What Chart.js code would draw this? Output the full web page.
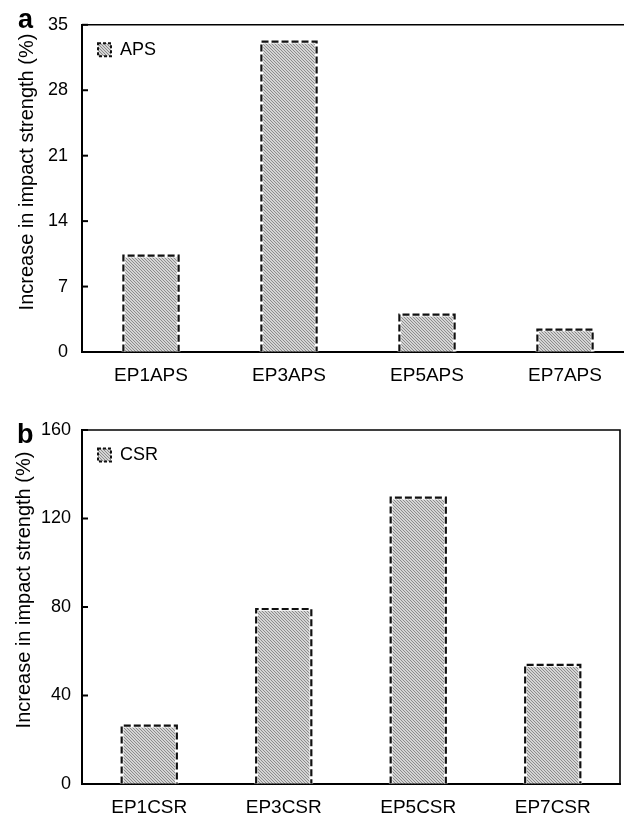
<!DOCTYPE html>
<html><head><meta charset="utf-8">
<script src="https://cdn.jsdelivr.net/npm/chart.js@4.4.1/dist/chart.umd.min.js"></script>
<style>
html,body{margin:0;padding:0;background:#fff;overflow:hidden;width:624px;height:817px;}
#wrap{position:relative;width:624px;height:817px;overflow:hidden;background:#fff;}
#ca{position:absolute;left:0;top:0;}
#cb{position:absolute;left:0;top:400px;}
</style></head><body>
<div id="wrap"><canvas id="ca" width="660" height="400"></canvas><canvas id="cb" width="624" height="417"></canvas></div>
<script>
// ---- data ----
const categoriesA = ['EP1APS', 'EP3APS', 'EP5APS', 'EP7APS'];
const valuesA = [10.3, 33.2, 4.0, 2.4];
const ticksA = [0, 7, 14, 21, 28, 35];
const seriesA = 'APS';

const categoriesB = ['EP1CSR', 'EP3CSR', 'EP5CSR', 'EP7CSR'];
const valuesB = [26.4, 79.1, 129.4, 53.8];
const ticksB = [0, 40, 80, 120, 160];
const seriesB = 'CSR';

const yTitle = 'Increase in impact strength (%)';
const FONT = "'Liberation Sans', Arial, sans-serif";

function hatch(ctx) {
  const c = document.createElement('canvas');
  c.width = 3; c.height = 3;
  const g = c.getContext('2d');
  g.fillStyle = '#d4d4d4'; g.fillRect(0, 0, 3, 3);
  g.fillStyle = '#8c8c8c';
  for (let i = 0; i < 3; i++) g.fillRect(i, i, 1, 1);
  return ctx.createPattern(c, 'repeat');
}

const dashPlugin = {
  id: 'dashBars',
  afterDatasetsDraw(chart) {
    const ctx = chart.ctx;
    chart.getSortedVisibleDatasetMetas().forEach(meta => {
      meta.data.forEach(bar => {
        const p = bar.getProps(['x', 'y', 'base', 'width'], true);
        const l = p.x - p.width / 2, r = p.x + p.width / 2;
        ctx.save();
        ctx.beginPath();
        ctx.moveTo(l, p.base); ctx.lineTo(l, p.y); ctx.lineTo(r, p.y); ctx.lineTo(r, p.base);
        ctx.lineWidth = 3.6; ctx.strokeStyle = '#fff'; ctx.setLineDash([]); ctx.stroke();
        ctx.lineWidth = 2.2; ctx.strokeStyle = '#111'; ctx.setLineDash([7, 3]); ctx.stroke();
        ctx.restore();
      });
    });
  }
};

const framePlugin = {
  id: 'frame',
  beforeDraw(chart) {
    const lg = chart.legend;
    if (lg) {
      const h = lg.height;
      lg.top = chart.chartArea.top;
      lg.bottom = lg.top + h;
    }
  },
  afterDraw(chart, args, opts) {
    const ctx = chart.ctx, a = chart.chartArea;
    ctx.save();
    ctx.strokeStyle = '#000';
    ctx.lineWidth = 1.6;
    ctx.beginPath();
    ctx.moveTo(a.left, a.top); ctx.lineTo(a.right, a.top);
    if (opts.right) { ctx.lineTo(a.right, a.bottom); }
    ctx.stroke();
    // inward tick marks
    const ys = chart.scales.y;
    ctx.lineWidth = 2;
    ys.ticks.forEach((t, i) => {
      const py = ys.getPixelForTick(i);
      ctx.beginPath(); ctx.moveTo(a.left, py); ctx.lineTo(a.left + 6, py); ctx.stroke();
    });
    // panel letter
    ctx.fillStyle = '#000';
    ctx.font = 'bold 27px ' + FONT;
    ctx.textBaseline = 'alphabetic';
    ctx.textAlign = 'left';
    ctx.fillText(opts.letter, opts.lx, opts.ly);
    // y axis title
    ctx.save();
    ctx.translate(opts.tx, opts.ty);
    ctx.rotate(-Math.PI / 2);
    ctx.textAlign = 'center';
    ctx.textBaseline = 'middle';
    ctx.font = '20px ' + FONT;
    ctx.fillText(yTitle, 0, 0);
    ctx.restore();
    ctx.restore();
  }
};

function makeChart(id, cats, vals, ticks, series, cfg) {
  const canvas = document.getElementById(id);
  const ctx = canvas.getContext('2d');
  const pat = hatch(ctx);
  return new Chart(ctx, {
    type: 'bar',
    data: {
      labels: cats,
      datasets: [{
        label: series,
        data: vals,
        backgroundColor: pat,
        borderWidth: 0,
        barPercentage: cfg.barPct,
        categoryPercentage: 1.0
      }]
    },
    options: {
      responsive: false,
      animation: false,
      devicePixelRatio: 1,
      layout: { padding: cfg.padding },
      plugins: {
        tooltip: { enabled: false },
        title: { display: false },
        legend: {
          display: true,
          position: 'chartArea',
          align: 'start',
          labels: {
            boxWidth: 13, boxHeight: 13, padding: 16,
            color: '#000',
            font: { size: 18, family: FONT },
            generateLabels() {
              return [{ text: series, fillStyle: pat, strokeStyle: '#111', lineWidth: 2,
                        lineDash: [3, 2], hidden: false, datasetIndex: 0 }];
            }
          }
        },
        frame: cfg.frame
      },
      scales: {
        x: {
          z: 1,
          grid: { drawOnChartArea: false, drawTicks: false },
          border: { display: true, color: '#000', width: 2 },
          ticks: { color: '#000', font: { size: 19, family: FONT }, padding: 12, maxRotation: 0 },
          afterFit(s) { s.height = cfg.xH; }
        },
        y: {
          z: 1,
          min: ticks[0], max: ticks[ticks.length - 1],
          grid: { drawOnChartArea: false, drawTicks: false },
          border: { display: true, color: '#000', width: 2 },
          ticks: { color: '#000', font: { size: 18, family: FONT }, padding: cfg.yPad },
          afterBuildTicks(s) { s.ticks = ticks.map(v => ({ value: v })); },
          afterFit(s) { s.width = 82; },
          title: { display: false }
        }
      }
    },
    plugins: [dashPlugin, framePlugin]
  });
}

makeChart('ca', categoriesA, valuesA, ticksA, seriesA, {
  barPct: 0.40,
  padding: { top: 20, right: 26, left: 0, bottom: 0 },
  xH: 48, yPad: 14,
  frame: { right: false, letter: 'a', lx: 18, ly: 28, tx: 27, ty: 172 }
});
makeChart('cb', categoriesB, valuesB, ticksB, seriesB, {
  barPct: 0.41,
  padding: { top: 30, right: 4, left: 0, bottom: 0 },
  xH: 33, yPad: 11,
  frame: { right: true, letter: 'b', lx: 17, ly: 43, tx: 24, ty: 190 }
});
</script>
</body></html>
